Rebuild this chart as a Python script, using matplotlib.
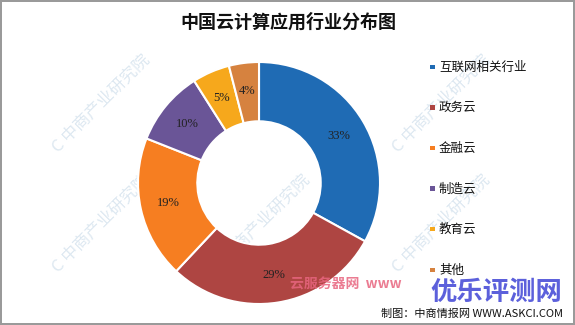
import matplotlib
matplotlib.use("Agg")
import matplotlib.pyplot as plt
import numpy as np

plt.rcParams['font.family'] = ['Noto Sans CJK SC', 'DejaVu Sans']

categories = ['互联网相关行业', '政务云', '金融云', '制造云', '教育云', '其他']
shares = [33, 29, 19, 10, 5, 4]
colors = ['#1f6bb4', '#ae4542', '#f67e21', '#6a5597', '#f6a81c', '#d6823f']

fig = plt.figure(figsize=(5.75, 3.25), dpi=100)
fig.patch.set_facecolor('white')
fig.patch.set_edgecolor('#9a9a9a')
fig.patch.set_linewidth(1.5)

# faint background watermarks, kept under the chart
bg = fig.add_axes([0, 0, 1, 1], zorder=0)
bg.set_xlim(0, 575)
bg.set_ylim(325, 0)
bg.axis('off')
for wx, wy in [(55, 150), (55, 270), (215, 270), (395, 150), (395, 270)]:
    bg.text(wx, wy, 'C 中商产业研究院', fontsize=12, color='#dde8f1',
            rotation=45, ha='left', va='center', rotation_mode='anchor')

ax = fig.add_axes([0.24, 0.0646, 0.4209, 0.7446], zorder=1)
wedges, texts = ax.pie(shares, colors=colors, startangle=90, counterclock=False,
                       wedgeprops=dict(width=0.49, edgecolor='white', linewidth=1.5))
for w, v in zip(wedges, shares):
    ang = np.deg2rad((w.theta1 + w.theta2) / 2)
    r = 0.77
    ax.text(r * np.cos(ang), r * np.sin(ang), f'{v}%', ha='center', va='center',
            fontsize=9, family='Liberation Serif', color='#222222')
ax.set_xlim(-1, 1)
ax.set_ylim(-1, 1)
ax.set_aspect('equal')
ax.axis('off')

fig.text(288 / 575, 1 - 22 / 325, '中国云计算应用行业分布图', ha='center', va='center',
         fontsize=13, fontweight='bold', color='#111111')

# legend
for i, (c, lab) in enumerate(zip(colors, categories)):
    y = 1 - (67 + i * 40.6) / 325
    fig.patches.append(plt.Rectangle((430 / 575, y - 2 / 325), 4.5 / 575, 4.5 / 325,
                                     transform=fig.transFigure, facecolor=c, edgecolor='none'))
    fig.text(439 / 575, y, lab, ha='left', va='center', fontsize=9, color='#111111')

fig.text(563 / 575, 1 - 314 / 325, '制图：中商情报网 WWW.ASKCI.COM', ha='right', va='center',
         fontsize=8, color='#111111')

# overlay marks
fig.text(290 / 575, 1 - 285 / 325, '云服务器网  www', ha='left', va='center',
         fontsize=10, fontweight='bold', color='#e8657f', alpha=0.85)
fig.text(562 / 575, 1 - 292 / 325, '优乐评测网', ha='right', va='center',
         fontsize=19, fontweight='bold', color='#4a4fd8', alpha=0.9)

fig.savefig('out.png', dpi=100)
